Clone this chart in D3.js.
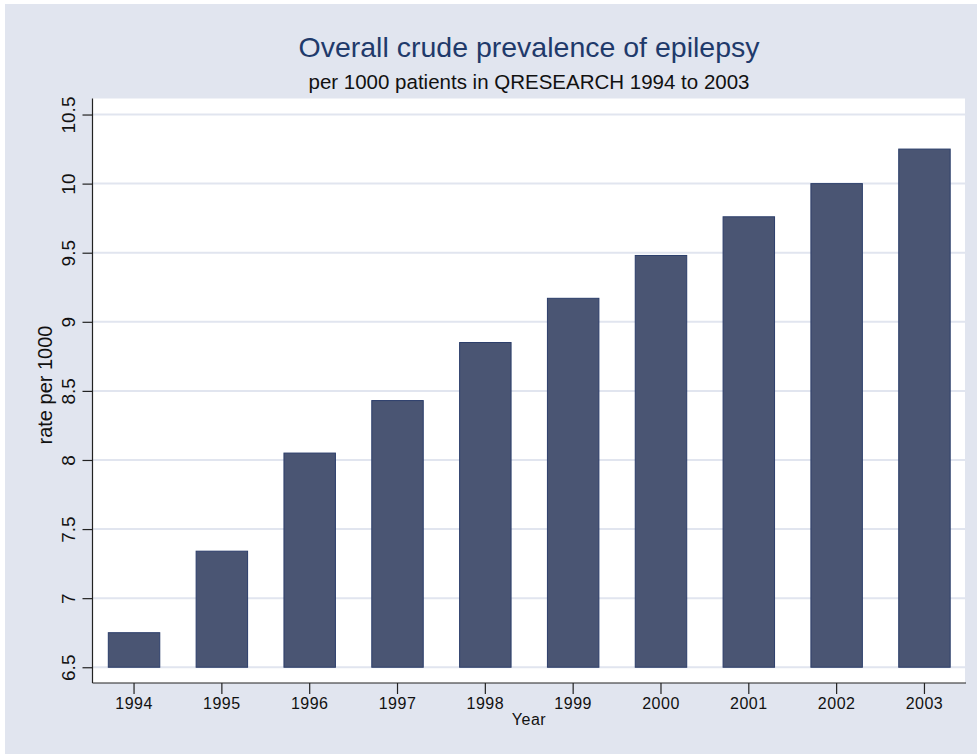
<!DOCTYPE html>
<html>
<head>
<meta charset="utf-8">
<script src="https://cdn.jsdelivr.net/npm/d3@7"></script>
<style>
  html, body { margin: 0; padding: 0; background: #ffffff; }
  text { font-family: "Liberation Sans", Arial, sans-serif; }
</style>
</head>
<body>
<svg id="chart" width="977" height="754"></svg>
<script>
const years = ["1994","1995","1996","1997","1998","1999","2000","2001","2002","2003"];
const rates = [6.75, 7.34, 8.05, 8.43, 8.85, 9.17, 9.48, 9.76, 10.0, 10.25];
const yTicks = [6.5, 7, 7.5, 8, 8.5, 9, 9.5, 10, 10.5];
const yTickLabels = ["6.5", "7", "7.5", "8", "8.5", "9", "9.5", "10", "10.5"];
const titleText = "Overall crude prevalence of epilepsy";
const subtitleText = "per 1000 patients in QRESEARCH 1994 to 2003";
const yTitle = "rate per 1000";
const xTitle = "Year";

const svg = d3.select("#chart");
const W = 977, H = 754;
const plot = { left: 92.5, right: 966, top: 98.5, bottom: 683 };

// outer background
svg.append("rect").attr("x", 5).attr("y", 4).attr("width", W - 5).attr("height", H - 4)
  .attr("fill", "#e1e5ef");

// plot region
svg.append("rect").attr("x", plot.left).attr("y", plot.top)
  .attr("width", 965 - plot.left).attr("height", plot.bottom - plot.top)
  .attr("fill", "#ffffff");

const y = d3.scaleLinear().domain([6.386, 10.616]).range([plot.bottom, plot.top]);
const x = d3.scaleBand().domain(years).range([plot.left, plot.right])
  .paddingInner(0.414).paddingOuter(0.18);

// gridlines
svg.append("g").selectAll("line").data(yTicks).join("line")
  .attr("x1", plot.left).attr("x2", 965)
  .attr("y1", d => y(d)).attr("y2", d => y(d))
  .attr("stroke", "#e1e5ef").attr("stroke-width", 2);

// bars
svg.append("g").selectAll("rect").data(years).join("rect")
  .attr("x", d => x(d))
  .attr("width", x.bandwidth())
  .attr("y", (d, i) => y(rates[i]))
  .attr("height", (d, i) => y(6.5) - y(rates[i]))
  .attr("fill", "#4a5573")
  .attr("stroke", "#2b3d6a")
  .attr("stroke-width", 1);

// y axis
const yAxis = d3.axisLeft(y).tickValues(yTicks)
  .tickFormat((d, i) => yTickLabels[i]).tickSize(10).tickPadding(8);
const gy = svg.append("g").attr("transform", `translate(${plot.left},0)`).call(yAxis);
gy.select(".domain").attr("d", `M0,${plot.top}V${plot.bottom}`).attr("stroke", "#222").attr("stroke-width", 1.2);
gy.selectAll(".tick line").attr("stroke", "#222").attr("stroke-width", 1.2);
gy.selectAll(".tick text")
  .attr("transform", "rotate(-90)")
  .attr("x", 0).attr("y", -18)
  .attr("dy", 0)
  .attr("text-anchor", "middle")
  .attr("fill", "#111")
  .style("font-size", "19px")
  .style("font-family", "'Liberation Sans', Arial, sans-serif");

// x axis
const xAxis = d3.axisBottom(x).tickSize(11).tickPadding(4);
const gx = svg.append("g").attr("transform", `translate(0,${plot.bottom})`).call(xAxis);
gx.select(".domain").attr("d", `M${plot.left},0H${plot.right}`).attr("stroke", "#222").attr("stroke-width", 1.2);
gx.selectAll(".tick line").attr("stroke", "#222").attr("stroke-width", 1.2);
gx.selectAll(".tick text")
  .attr("y", 26).attr("dy", 0)
  .attr("fill", "#111")
  .style("font-size", "16px")
  .style("letter-spacing", "0.5px")
  .style("font-family", "'Liberation Sans', Arial, sans-serif");

// titles
svg.append("text").attr("x", 529).attr("y", 57).attr("text-anchor", "middle")
  .attr("fill", "#1f3a6b").style("font-size", "28.5px").text(titleText);
svg.append("text").attr("x", 529).attr("y", 89).attr("text-anchor", "middle")
  .attr("fill", "#111").style("font-size", "20.5px").text(subtitleText);

svg.append("text").attr("transform", "translate(52,385) rotate(-90)")
  .attr("text-anchor", "middle").attr("fill", "#111")
  .style("font-size", "20px").text(yTitle);

svg.append("text").attr("x", 529).attr("y", 725).attr("text-anchor", "middle")
  .attr("fill", "#111").style("font-size", "16px").style("letter-spacing", "0.5px").text(xTitle);
</script>
</body>
</html>
